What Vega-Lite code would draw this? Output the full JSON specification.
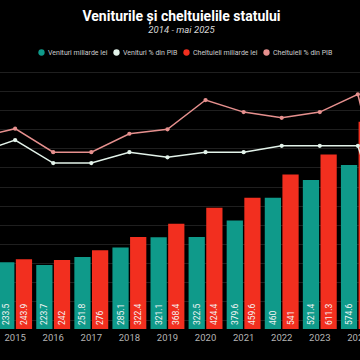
{
  "$schema": "https://vega.github.io/schema/vega-lite/v6.json",
  "autosize": {"type": "none"},
  "width": 457,
  "height": 257,
  "padding": {"left": -42, "top": 72, "right": -55, "bottom": 31},
  "background": "#000000",
  "title": {
    "text": "Veniturile și cheltuielile statului",
    "subtitle": "2014 - mai 2025",
    "color": "#ffffff",
    "subtitleColor": "#d8d8d8",
    "font": "Roboto",
    "fontSize": 14,
    "fontWeight": "bold",
    "subtitleFont": "Roboto",
    "subtitleFontSize": 9.5,
    "subtitleFontStyle": "italic",
    "anchor": "middle",
    "dx": -5,
    "offset": 15,
    "subtitlePadding": 1
  },
  "datasets": {
    "buget": [
      {"an": "2014", "serie": "Venituri miliarde lei", "valoare": 206.7},
      {"an": "2015", "serie": "Venituri miliarde lei", "valoare": 233.5},
      {"an": "2016", "serie": "Venituri miliarde lei", "valoare": 223.7},
      {"an": "2017", "serie": "Venituri miliarde lei", "valoare": 251.8},
      {"an": "2018", "serie": "Venituri miliarde lei", "valoare": 285.1},
      {"an": "2019", "serie": "Venituri miliarde lei", "valoare": 321.1},
      {"an": "2020", "serie": "Venituri miliarde lei", "valoare": 322.5},
      {"an": "2021", "serie": "Venituri miliarde lei", "valoare": 379.6},
      {"an": "2022", "serie": "Venituri miliarde lei", "valoare": 460},
      {"an": "2023", "serie": "Venituri miliarde lei", "valoare": 521.4},
      {"an": "2024", "serie": "Venituri miliarde lei", "valoare": 574.6},
      {"an": "2025", "serie": "Venituri miliarde lei", "valoare": 241},
      {"an": "2014", "serie": "Cheltuieli miliarde lei", "valoare": 218.7},
      {"an": "2015", "serie": "Cheltuieli miliarde lei", "valoare": 243.9},
      {"an": "2016", "serie": "Cheltuieli miliarde lei", "valoare": 242},
      {"an": "2017", "serie": "Cheltuieli miliarde lei", "valoare": 276},
      {"an": "2018", "serie": "Cheltuieli miliarde lei", "valoare": 322.4},
      {"an": "2019", "serie": "Cheltuieli miliarde lei", "valoare": 368.4},
      {"an": "2020", "serie": "Cheltuieli miliarde lei", "valoare": 424.4},
      {"an": "2021", "serie": "Cheltuieli miliarde lei", "valoare": 459.6},
      {"an": "2022", "serie": "Cheltuieli miliarde lei", "valoare": 541},
      {"an": "2023", "serie": "Cheltuieli miliarde lei", "valoare": 611.3},
      {"an": "2024", "serie": "Cheltuieli miliarde lei", "valoare": 726},
      {"an": "2025", "serie": "Cheltuieli miliarde lei", "valoare": 299},
      {"an": "2014", "serie": "Venituri % din PIB", "valoare": 31.3},
      {"an": "2015", "serie": "Venituri % din PIB", "valoare": 33.3},
      {"an": "2016", "serie": "Venituri % din PIB", "valoare": 29.7},
      {"an": "2017", "serie": "Venituri % din PIB", "valoare": 29.7},
      {"an": "2018", "serie": "Venituri % din PIB", "valoare": 31.4},
      {"an": "2019", "serie": "Venituri % din PIB", "valoare": 30.6},
      {"an": "2020", "serie": "Venituri % din PIB", "valoare": 31.4},
      {"an": "2021", "serie": "Venituri % din PIB", "valoare": 31.4},
      {"an": "2022", "serie": "Venituri % din PIB", "valoare": 32.4},
      {"an": "2023", "serie": "Venituri % din PIB", "valoare": 32.4},
      {"an": "2024", "serie": "Venituri % din PIB", "valoare": 32.4},
      {"an": "2025", "serie": "Venituri % din PIB", "valoare": 12.9},
      {"an": "2014", "serie": "Cheltuieli % din PIB", "valoare": 33.7},
      {"an": "2015", "serie": "Cheltuieli % din PIB", "valoare": 35.1},
      {"an": "2016", "serie": "Cheltuieli % din PIB", "valoare": 31.4},
      {"an": "2017", "serie": "Cheltuieli % din PIB", "valoare": 31.4},
      {"an": "2018", "serie": "Cheltuieli % din PIB", "valoare": 34.3},
      {"an": "2019", "serie": "Cheltuieli % din PIB", "valoare": 35.0},
      {"an": "2020", "serie": "Cheltuieli % din PIB", "valoare": 39.6},
      {"an": "2021", "serie": "Cheltuieli % din PIB", "valoare": 37.7},
      {"an": "2022", "serie": "Cheltuieli % din PIB", "valoare": 36.8},
      {"an": "2023", "serie": "Cheltuieli % din PIB", "valoare": 37.7},
      {"an": "2024", "serie": "Cheltuieli % din PIB", "valoare": 40.5},
      {"an": "2025", "serie": "Cheltuieli % din PIB", "valoare": 16.0}
    ]
  },
  "data": {"name": "buget"},
  "encoding": {
    "x": {
      "field": "an",
      "type": "ordinal",
      "scale": {"paddingInner": 0.11, "paddingOuter": 0.055},
      "axis": {
        "title": null,
        "domain": false,
        "ticks": false,
        "grid": false,
        "labelAngle": 0,
        "labelColor": "#b4b4b4",
        "labelFont": "Roboto",
        "labelFontSize": 9.5,
        "labelPadding": 3
      }
    }
  },
  "layer": [
    {
      "transform": [{"filter": "indexof(datum.serie, 'miliarde') >= 0"}],
      "mark": {"type": "bar"},
      "encoding": {
        "xOffset": {
          "field": "serie",
          "type": "nominal",
          "scale": {"domain": ["Venituri miliarde lei", "Cheltuieli miliarde lei"], "paddingInner": 0.08}
        },
        "y": {
          "field": "valoare",
          "type": "quantitative",
          "scale": {"domain": [0, 900]},
          "axis": null
        },
        "color": {
          "field": "serie",
          "type": "nominal",
          "scale": {
            "domain": ["Venituri miliarde lei", "Venituri % din PIB", "Cheltuieli miliarde lei", "Cheltuieli % din PIB"],
            "range": ["#0f9a8a", "#e3f3ea", "#f22f1f", "#e6908e"]
          },
          "legend": {
            "orient": "none",
            "legendX": 80,
            "legendY": -23,
            "direction": "horizontal",
            "gridAlign": "none",
            "title": null,
            "symbolType": "circle",
            "symbolSize": 40,
            "symbolStrokeWidth": 0,
            "labelColor": "#cccccc",
            "labelFont": "Roboto",
            "labelFontSize": 7,
            "labelOffset": 3,
            "columnPadding": 5
          }
        }
      }
    },
    {
      "transform": [{"filter": "indexof(datum.serie, 'miliarde') >= 0"}],
      "mark": {"type": "text", "angle": 270, "align": "left", "baseline": "middle", "dx": 4, "color": "#f4f4f4", "font": "Roboto", "fontSize": 8.5},
      "encoding": {
        "xOffset": {"field": "serie", "type": "nominal"},
        "y": {"datum": 0, "type": "quantitative", "scale": {"domain": [0, 900]}, "axis": null},
        "text": {"field": "valoare", "type": "quantitative", "format": "~g"}
      }
    },
    {
      "transform": [{"filter": "indexof(datum.serie, 'PIB') >= 0"}],
      "mark": {"type": "line", "strokeWidth": 1.5},
      "encoding": {
        "y": {
          "field": "valoare",
          "type": "quantitative",
          "scale": {"domain": [3.63, 44], "nice": false, "zero": false},
          "axis": {
            "title": null,
            "labels": false,
            "ticks": false,
            "domain": false,
            "grid": true,
            "gridColor": "#1f1f1f",
            "gridWidth": 1,
            "values": [44, 41, 38, 35, 32, 29, 26, 23, 20, 17, 14, 11, 8, 5]
          }
        },
        "stroke": {
          "field": "serie",
          "type": "nominal",
          "scale": {"domain": ["Venituri % din PIB", "Cheltuieli % din PIB"], "range": ["#e3f3ea", "#e6908e"]},
          "legend": null
        }
      }
    },
    {
      "transform": [{"filter": "indexof(datum.serie, 'PIB') >= 0"}],
      "mark": {"type": "circle", "size": 18, "opacity": 1},
      "encoding": {
        "y": {
          "field": "valoare",
          "type": "quantitative",
          "scale": {"domain": [3.63, 44], "nice": false, "zero": false},
          "axis": null
        },
        "color": {"field": "serie", "type": "nominal"}
      }
    }
  ],
  "resolve": {"scale": {"y": "independent"}},
  "config": {"view": {"stroke": null}}
}
